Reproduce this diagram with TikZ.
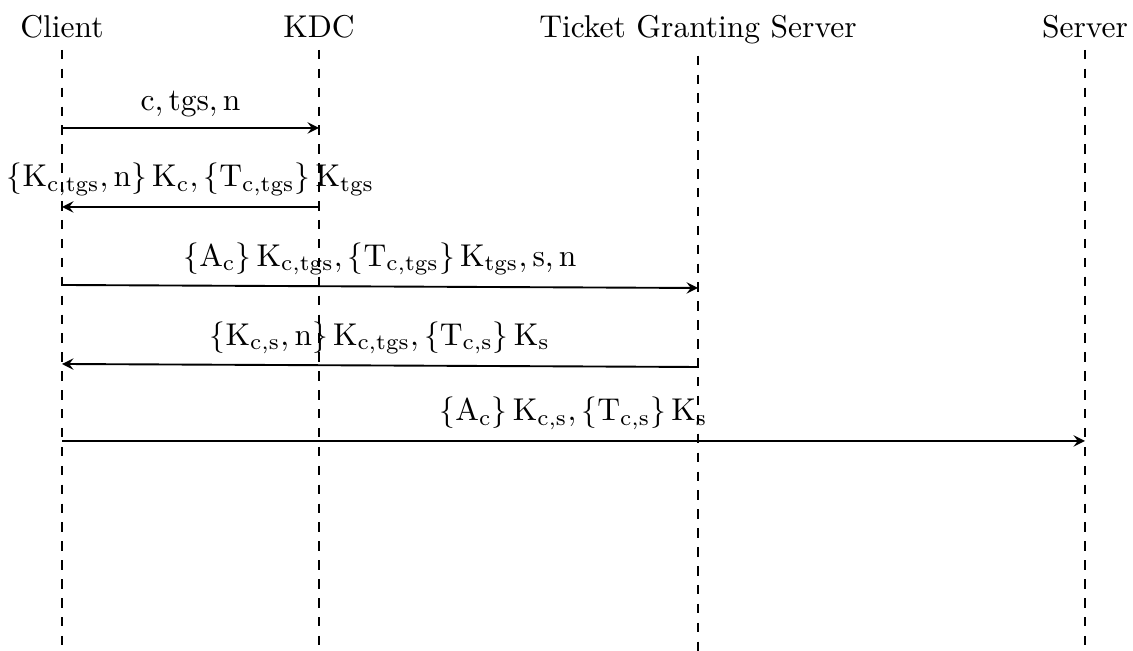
\documentclass[tikz,border=0pt]{standalone}
\usetikzlibrary{arrows}
\begin{document}
\begin{tikzpicture}[x=0.011161cm, y=-0.011161cm,
  actor/.style={anchor=base},
  lifeline/.style={dashed},
  msg/.style={->, >=stealth, semithick},
  lbl/.style={above, midway}]
\useasboundingbox (0,0) rectangle (1133,651);

% participants
\node[actor] (client) at (62,38) {Client};
\node[actor] (kdc) at (319,38) {KDC};
\node[actor] (tgs) at (698,38) {Ticket Granting Server};
\node[actor] (server) at (1085,38) {Server};

% lifelines
\coordinate (clientEnd) at (62,651);
\coordinate (kdcEnd) at (319,651);
\coordinate (tgsEnd) at (698,651);
\coordinate (serverEnd) at (1085,651);
\draw[lifeline] (client.south) -- (clientEnd);
\draw[lifeline] (kdc.south) -- (kdcEnd);
\draw[lifeline] (tgs.south) -- (tgsEnd);
\draw[lifeline] (server.south) -- (serverEnd);

% message end points on the lifelines
\coordinate (c1) at (62,128);  \coordinate (k1) at (319,128);
\coordinate (k2) at (319,207); \coordinate (c2) at (62,207);
\coordinate (c3) at (62,285);  \coordinate (t3) at (698,288);
\coordinate (t4) at (698,367); \coordinate (c4) at (62,364);
\coordinate (c5) at (62,441);  \coordinate (s5) at (1085,441);

% messages
\draw[msg] (c1) -- node[lbl] {$\mathrm{c, tgs, n}$} (k1);
\draw[msg] (k2) -- node[lbl]
  {$\{\mathrm{K_{c,tgs}, n}\}\,\mathrm{K_{c}}, \{\mathrm{T_{c,tgs}}\}\,\mathrm{K_{tgs}}$} (c2);
\draw[msg] (c3) -- node[lbl]
  {$\{\mathrm{A_{c}}\}\,\mathrm{K_{c,tgs}}, \{\mathrm{T_{c,tgs}}\}\,\mathrm{K_{tgs}}, \mathrm{s}, \mathrm{n}$} (t3);
\draw[msg] (t4) -- node[lbl]
  {$\{\mathrm{K_{c,s}, n}\}\,\mathrm{K_{c,tgs}}, \{\mathrm{T_{c,s}}\}\,\mathrm{K_{s}}$} (c4);
\draw[msg] (c5) -- node[lbl]
  {$\{\mathrm{A_{c}}\}\,\mathrm{K_{c,s}}, \{\mathrm{T_{c,s}}\}\,\mathrm{K_{s}}$} (s5);
\end{tikzpicture}
\end{document}
